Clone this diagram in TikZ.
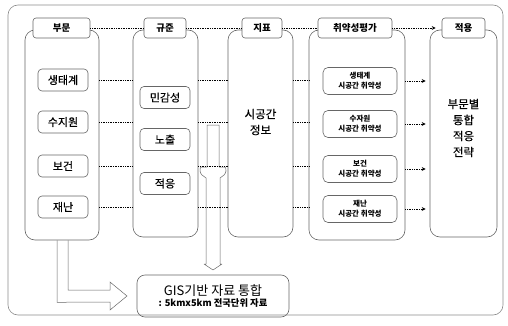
\documentclass[tikz,border=0pt]{standalone}
\usepackage{fontspec}
\setmainfont{Noto Sans CJK KR}
\newfontfamily\medfont{Noto Sans CJK KR}[FakeBold=0.5]
\usetikzlibrary{arrows.meta,calc}
\begin{document}
\begin{tikzpicture}[x=1pt,y=-1pt,
  boxline/.style={draw=black!60,line width=0.6pt},
  colbox/.style={boxline,rounded corners=10pt,inner sep=0pt},
  lblbox/.style={boxline,fill=white,rounded corners=3pt,minimum height=20pt,inner sep=0pt,font=\bfseries\fontsize{9.5}{11}\selectfont},
  itembox/.style={boxline,fill=white,rounded corners=4pt,minimum width=50pt,minimum height=22pt,inner sep=0pt,font=\medfont\fontsize{11}{13}\selectfont},
  vbox/.style={boxline,fill=white,rounded corners=5pt,minimum width=74pt,minimum height=27pt,inner sep=0pt,align=center,font=\bfseries\fontsize{7.5}{10}\selectfont},
  dotline/.style={densely dotted,line width=0.7pt},
  dotarrow/.style={densely dotted,line width=0.7pt,-{Stealth[length=4pt,width=4pt]}},
  bigtext/.style={align=center,font=\medfont\fontsize{11.5}{16}\selectfont}
]
\useasboundingbox (0,0) rectangle (508,326);
% outer frame
\node[draw=black!45,line width=0.6pt,rounded corners=10pt,minimum width=495pt,minimum height=310pt,inner sep=0pt] (frame) at (255.5,160) {};

% columns
\node[colbox,minimum width=74pt,minimum height=210pt] (col1) at (62,135) {};
\node[colbox,minimum width=65pt,minimum height=207pt] (col2) at (165.5,133.5) {};
\node[colbox,minimum width=65pt,minimum height=207pt] (col3) at (260.5,133.5) {};
\node[colbox,minimum width=96pt,minimum height=210pt] (col4) at (357,135) {};
\node[colbox,minimum width=67pt,minimum height=207pt] (col5) at (463.5,133.5) {};

% hollow vertical arrow (drawn under the dotted lines)
\draw[boxline,line width=0.5pt,line join=round] (207,125) -- (219,125) -- (219,167) -- (225,167)
  .. controls (227,169) and (226,173) .. (224,175) -- (220,178) -- (220,264) -- (222,264) -- (213,270) -- (204,264) -- (206,264) -- (206,178) -- (202,175)
  .. controls (200,173) and (199,169) .. (201,167) -- (207,167) -- cycle;

% labels
\node[lblbox,minimum width=57pt] (L1) at (61.5,28) {부문};
\node[lblbox,minimum width=42pt] (L2) at (165,28) {규준};
\node[lblbox,minimum width=40pt] (L3) at (262,28) {지표};
\node[lblbox,minimum width=74pt] (L4) at (355,28) {취약성평가};
\node[lblbox,minimum width=43pt] (L5) at (463.5,28) {적용};

\draw[dotline] (L1.east) -- (L2.west);
\draw[dotline] (L2.east) -- (L3.west);
\draw[dotline] (L3.east) -- (L4.west);
\draw[dotarrow,shorten >=6pt] (L4.east) -- (L5.west);

% sector items
\node[itembox] (s1) at (63,80) {생태계};
\node[itembox] (s2) at (63,122) {수지원};
\node[itembox] (s3) at (63,166) {보건};
\node[itembox] (s4) at (63,207) {재난};

% criteria items
\node[itembox] (c1) at (165,97.5) {민감성};
\node[itembox] (c2) at (165,139.5) {노출};
\node[itembox] (c3) at (165,183.5) {적응};

% indicator text
\node[bigtext] (ind) at (260.5,122) {시공간\\정보};

% vulnerability items
\node[vbox] (v1) at (360,81) {생태계\\시공간 취약성};
\node[vbox] (v2) at (360,124) {수자원\\시공간 취약성};
\node[vbox] (v3) at (360,169) {보건\\시공간 취약성};
\node[vbox] (v4) at (360,209) {재난\\시공간 취약성};

% adaptation text
\node[bigtext] (adp) at (463.5,128) {부문별\\통합\\적응\\전략};

% dotted row connectors
\foreach \s in {s1,s2,s3,s4}{
  \draw[dotline] (\s -| col1.east) -- (\s -| col2.west);
  \draw[dotline] (\s -| col2.east) -- (\s -| col3.west);
  \draw[dotline] (\s -| col3.east) -- (\s -| col4.west);
}
\foreach \v in {v1,v2,v3,v4}{
  \draw[dotarrow,shorten >=4pt] (\v -| col4.east) -- (\v -| col5.west);
}

% GIS box
\node[boxline,rounded corners=8pt,minimum width=152pt,minimum height=42pt,inner sep=0pt,align=center] (gis) at (213,296)
  {{\fontsize{13}{15}\selectfont GIS기반 자료 통합}\\[-1pt]{\bfseries\fontsize{9.3}{11}\selectfont : 5kmx5km 전국단위 자료}};

% L-shaped hollow arrow
\draw[boxline,line width=0.5pt] ([xshift=-5pt]col1.south) -- ++(0,62) -- (110,302) -- (110,310) -- (127,296) -- (110,282) -- (110,290) -- ([xshift=6pt]col1.south |- 0,290) -- ([xshift=6pt]col1.south);
\end{tikzpicture}
\end{document}
